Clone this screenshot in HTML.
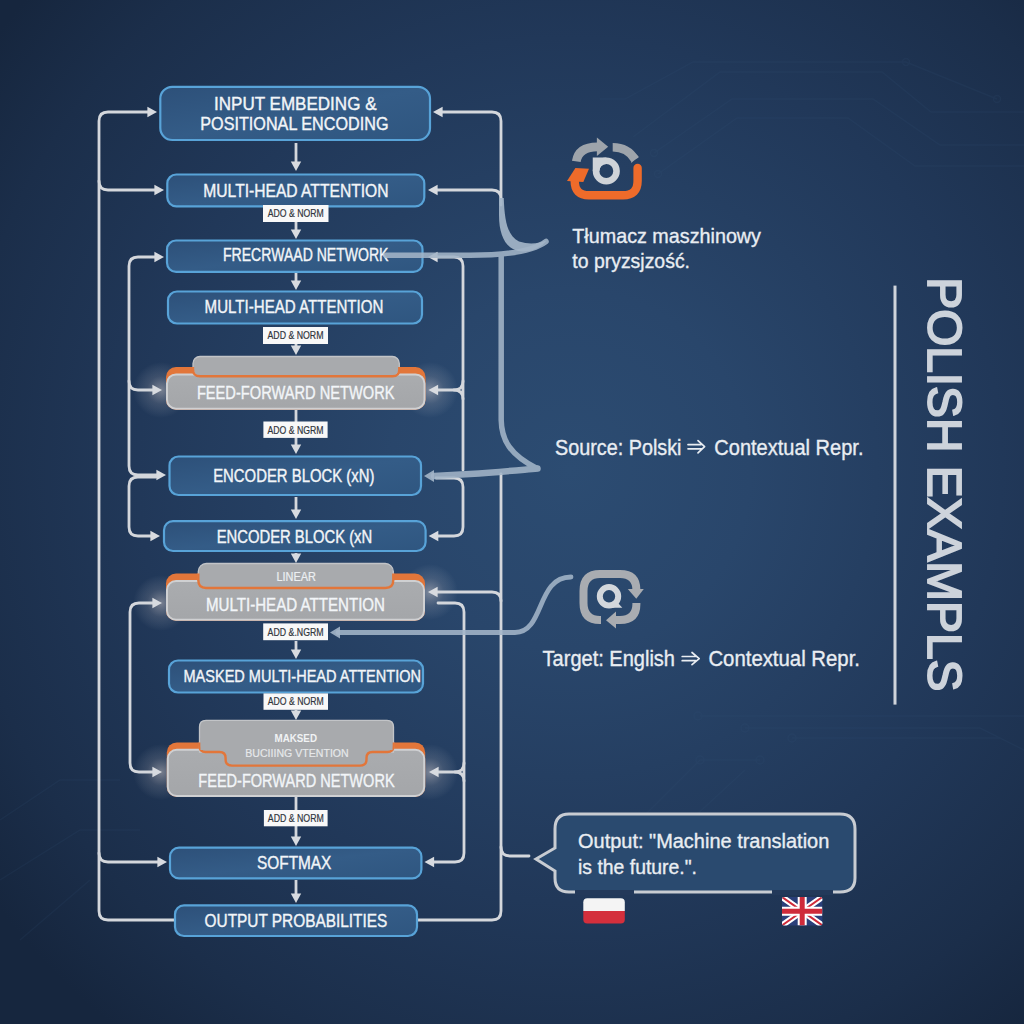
<!DOCTYPE html>
<html><head><meta charset="utf-8"><style>
html,body{margin:0;padding:0;width:1024px;height:1024px;overflow:hidden;background:#1f3050;}
svg{display:block;font-family:"Liberation Sans",sans-serif;}
</style></head><body>
<svg width="1024" height="1024" viewBox="0 0 1024 1024">
<defs>
<radialGradient id="bg" gradientUnits="userSpaceOnUse" cx="570" cy="470" r="720">
<stop offset="0" stop-color="#2c4c72"/>
<stop offset="0.25" stop-color="#29466b"/>
<stop offset="0.6" stop-color="#213859"/>
<stop offset="0.85" stop-color="#1b2e4a"/>
<stop offset="1" stop-color="#16263e"/>
</radialGradient>
<linearGradient id="bluebox" x1="0" y1="0" x2="1" y2="1">
<stop offset="0" stop-color="#2d5079"/>
<stop offset="0.5" stop-color="#345c87"/>
<stop offset="1" stop-color="#2f5680"/>
</linearGradient>
<linearGradient id="greybox" x1="0" y1="0" x2="0" y2="1">
<stop offset="0" stop-color="#aaacaf"/>
<stop offset="1" stop-color="#a4a6a9"/>
</linearGradient>
<radialGradient id="glow">
<stop offset="0" stop-color="#f4e6e0" stop-opacity="0.42"/>
<stop offset="0.5" stop-color="#e8dcd8" stop-opacity="0.14"/>
<stop offset="1" stop-color="#ffffff" stop-opacity="0"/>
</radialGradient>
</defs>
<rect x="0" y="0" width="1024" height="1024" fill="url(#bg)"/>
<g stroke="#37577c" stroke-width="1.4" fill="none" opacity="0.13">
<path d="M600 99 L625 99 L693 62 L906 62 L997 99"/>
<path d="M633 137 L720 72 L882 72 L931 112 L1024 112"/>
<path d="M654 153 L732 99 L873 99 L940 145 L1024 145"/>
<path d="M658 174 L737 118 L848 118 L915 166 L1024 166"/>
<circle cx="658" cy="174" r="3.5"/><circle cx="654" cy="153" r="3.5"/><circle cx="906" cy="62" r="3.5"/><circle cx="997" cy="99" r="3.5"/>
<path d="M700 716 L1024 716"/><path d="M745 728 L980 728 L1024 750"/><path d="M792 738 L1000 738"/>
<circle cx="698" cy="716" r="4"/><circle cx="745" cy="728" r="4"/><circle cx="792" cy="738" r="4"/>
<path d="M640 820 L700 760 L760 760"/><path d="M680 830 L745 770"/><circle cx="700" cy="760" r="4"/><circle cx="760" cy="760" r="4"/>
<path d="M0 820 L60 780 L120 780"/><path d="M0 880 L80 830 L140 830"/><path d="M20 940 L90 880"/>
</g>
<circle cx="161" cy="390" r="28" fill="url(#glow)"/>
<circle cx="430" cy="390" r="28" fill="url(#glow)"/>
<circle cx="161" cy="603" r="28" fill="url(#glow)"/>
<circle cx="430" cy="592" r="28" fill="url(#glow)"/>
<circle cx="161" cy="772" r="28" fill="url(#glow)"/>
<circle cx="430" cy="772" r="28" fill="url(#glow)"/>
<path d="M150 112 L108 112 Q99 112 99 121 L99 911 Q99 920 108 920 L174 920" fill="none" stroke="#d4d7dc" stroke-width="2.8" stroke-linecap="round" stroke-linejoin="round"/>
<path d="M99 181 Q99 190 108 190 L156 190" fill="none" stroke="#d4d7dc" stroke-width="2.8" stroke-linecap="round" stroke-linejoin="round"/>
<path d="M99 853 Q99 862 108 862 L159 862" fill="none" stroke="#d4d7dc" stroke-width="2.8" stroke-linecap="round" stroke-linejoin="round"/>
<path d="M156 257 L138 257 Q129 257 129 266 L129 466 Q129 475 138 475 L158 475" fill="none" stroke="#d4d7dc" stroke-width="2.8" stroke-linecap="round" stroke-linejoin="round"/>
<path d="M129 381 Q129 390 138 390 L154 390" fill="none" stroke="#d4d7dc" stroke-width="2.8" stroke-linecap="round" stroke-linejoin="round"/>
<path d="M156 477 L138 477 Q129 477 129 486 L129 527 Q129 536 138 536 L152 536" fill="none" stroke="#d4d7dc" stroke-width="2.8" stroke-linecap="round" stroke-linejoin="round"/>
<path d="M154 603 L139 603 Q130 603 130 612 L130 763 Q130 772 139 772 L154 772" fill="none" stroke="#d4d7dc" stroke-width="2.8" stroke-linecap="round" stroke-linejoin="round"/>
<path d="M440 112 L492 112 Q501 112 501 121 L501 205" fill="none" stroke="#d4d7dc" stroke-width="2.8" stroke-linecap="round" stroke-linejoin="round"/>
<path d="M501 474 L501 911 Q501 920 492 920 L418 920" fill="none" stroke="#d4d7dc" stroke-width="2.8" stroke-linecap="round" stroke-linejoin="round"/>
<path d="M436 190 L492 190 Q501 190 501 199" fill="none" stroke="#d4d7dc" stroke-width="2.8" stroke-linecap="round" stroke-linejoin="round"/>
<path d="M436 592 L492 592 Q501 592 501 601" fill="none" stroke="#d4d7dc" stroke-width="2.8" stroke-linecap="round" stroke-linejoin="round"/>
<path d="M501 847 Q501 856 510 856 L529 856" fill="none" stroke="#d4d7dc" stroke-width="2.8" stroke-linecap="round" stroke-linejoin="round"/>
<path d="M436 257 L454 257 Q463 257 463 266 L463 470" fill="none" stroke="#d4d7dc" stroke-width="2.8" stroke-linecap="round" stroke-linejoin="round"/>
<path d="M436 390 L454 390 Q463 390 463 381" fill="none" stroke="#d4d7dc" stroke-width="2.8" stroke-linecap="round" stroke-linejoin="round"/>
<path d="M454 390 Q463 390 463 399" fill="none" stroke="#d4d7dc" stroke-width="2.8" stroke-linecap="round" stroke-linejoin="round"/>
<path d="M436 478 L454 478 Q463 478 463 487 L463 527 Q463 536 454 536 L438 536" fill="none" stroke="#d4d7dc" stroke-width="2.8" stroke-linecap="round" stroke-linejoin="round"/>
<path d="M438 603 L455 603 Q464 603 464 612 L464 853 Q464 862 455 862 L432 862" fill="none" stroke="#d4d7dc" stroke-width="2.8" stroke-linecap="round" stroke-linejoin="round"/>
<path d="M437 772 L455 772 Q464 772 464 763" fill="none" stroke="#d4d7dc" stroke-width="2.8" stroke-linecap="round" stroke-linejoin="round"/>
<path d="M455 772 Q464 772 464 781" fill="none" stroke="#d4d7dc" stroke-width="2.8" stroke-linecap="round" stroke-linejoin="round"/>
<polygon points="157,112 147.4,106.8 147.4,117.2" fill="#d8dbe0"/>
<polygon points="164,190 154.4,184.8 154.4,195.2" fill="#d8dbe0"/>
<polygon points="164,257 154.4,251.8 154.4,262.2" fill="#d8dbe0"/>
<polygon points="162,390 152.4,384.8 152.4,395.2" fill="#d8dbe0"/>
<polygon points="166,475 156.4,469.8 156.4,480.2" fill="#d8dbe0"/>
<polygon points="160,536 150.4,530.8 150.4,541.2" fill="#d8dbe0"/>
<polygon points="162,603 152.4,597.8 152.4,608.2" fill="#d8dbe0"/>
<polygon points="162,772 152.4,766.8 152.4,777.2" fill="#d8dbe0"/>
<polygon points="167,862 157.4,856.8 157.4,867.2" fill="#d8dbe0"/>
<polygon points="433,112 442.6,106.8 442.6,117.2" fill="#d8dbe0"/>
<polygon points="428,190 437.6,184.8 437.6,195.2" fill="#d8dbe0"/>
<polygon points="428,257 437.6,251.8 437.6,262.2" fill="#d8dbe0"/>
<polygon points="428.5,390 438.1,384.8 438.1,395.2" fill="#d8dbe0"/>
<polygon points="428.7,536 438.3,530.8 438.3,541.2" fill="#d8dbe0"/>
<polygon points="428,592 437.6,586.8 437.6,597.2" fill="#d8dbe0"/>
<polygon points="429,772 438.6,766.8 438.6,777.2" fill="#d8dbe0"/>
<polygon points="424.5,862 434.1,856.8 434.1,867.2" fill="#d8dbe0"/>
<line x1="296" y1="143" x2="296" y2="163" stroke="#d4d7dc" stroke-width="2.8"/>
<polygon points="296,171 290.8,161.4 301.2,161.4" fill="#d8dbe0"/>
<line x1="296" y1="222" x2="296" y2="231" stroke="#d4d7dc" stroke-width="2.8"/>
<polygon points="296,239 290.8,229.4 301.2,229.4" fill="#d8dbe0"/>
<line x1="296" y1="273" x2="296" y2="282" stroke="#d4d7dc" stroke-width="2.8"/>
<polygon points="296,290 290.8,280.4 301.2,280.4" fill="#d8dbe0"/>
<line x1="296" y1="344" x2="296" y2="347" stroke="#d4d7dc" stroke-width="2.8"/>
<polygon points="296,355 290.8,345.4 301.2,345.4" fill="#d8dbe0"/>
<line x1="296" y1="410" x2="296" y2="446" stroke="#d4d7dc" stroke-width="2.8"/>
<polygon points="296,454 290.8,444.4 301.2,444.4" fill="#d8dbe0"/>
<line x1="296" y1="497" x2="296" y2="511" stroke="#d4d7dc" stroke-width="2.8"/>
<polygon points="296,519 290.8,509.4 301.2,509.4" fill="#d8dbe0"/>
<line x1="296" y1="553" x2="296" y2="555" stroke="#d4d7dc" stroke-width="2.8"/>
<polygon points="296,563 290.8,553.4 301.2,553.4" fill="#d8dbe0"/>
<line x1="296" y1="641" x2="296" y2="651" stroke="#d4d7dc" stroke-width="2.8"/>
<polygon points="296,659 290.8,649.4 301.2,649.4" fill="#d8dbe0"/>
<line x1="296" y1="710" x2="296" y2="712" stroke="#d4d7dc" stroke-width="2.8"/>
<polygon points="296,720 290.8,710.4 301.2,710.4" fill="#d8dbe0"/>
<line x1="296" y1="797" x2="296" y2="838" stroke="#d4d7dc" stroke-width="2.8"/>
<polygon points="296,846 290.8,836.4 301.2,836.4" fill="#d8dbe0"/>
<line x1="296" y1="880" x2="296" y2="895" stroke="#d4d7dc" stroke-width="2.8"/>
<polygon points="296,903 290.8,893.4 301.2,893.4" fill="#d8dbe0"/>
<rect x="160.3" y="86.8" width="269.7" height="53.2" rx="12" fill="url(#bluebox)" stroke="#58a3d8" stroke-width="2.2"/>
<text x="214.0" y="109.7" font-size="17.88" font-weight="normal" fill="#f2f5f8" stroke="#f2f5f8" stroke-width="0.38" textLength="162.5" lengthAdjust="spacingAndGlyphs" >INPUT EMBEDING &amp;</text>
<text x="200.3" y="130.0" font-size="17.88" font-weight="normal" fill="#f2f5f8" stroke="#f2f5f8" stroke-width="0.38" textLength="188.2" lengthAdjust="spacingAndGlyphs" >POSITIONAL ENCODING</text>
<rect x="167.3" y="174.5" width="257.0" height="31.8" rx="9" fill="url(#bluebox)" stroke="#58a3d8" stroke-width="2.2"/>
<text x="203.3" y="196.6" font-size="17.44" font-weight="normal" fill="#f2f5f8" stroke="#f2f5f8" stroke-width="0.38" textLength="185.2" lengthAdjust="spacingAndGlyphs" >MULTI-HEAD ATTENTION</text>
<rect x="263" y="205" width="65.5" height="17.0" fill="#f8f8f8"/>
<text x="267.8" y="217.3" font-size="10.03" font-weight="normal" fill="#30353c" stroke="#30353c" stroke-width="0.18" textLength="56.0" lengthAdjust="spacingAndGlyphs" >ADO &amp; NORM</text>
<rect x="167.0" y="240.5" width="255.5" height="31.3" rx="9" fill="url(#bluebox)" stroke="#58a3d8" stroke-width="2.2"/>
<text x="223.0" y="261.2" font-size="17.44" font-weight="normal" fill="#f2f5f8" stroke="#f2f5f8" stroke-width="0.38" textLength="165.5" lengthAdjust="spacingAndGlyphs" >FRECRWAAD NETWORK</text>
<rect x="168.0" y="291.5" width="254.0" height="32.0" rx="9" fill="url(#bluebox)" stroke="#58a3d8" stroke-width="2.2"/>
<text x="204.6" y="312.8" font-size="17.44" font-weight="normal" fill="#f2f5f8" stroke="#f2f5f8" stroke-width="0.38" textLength="178.8" lengthAdjust="spacingAndGlyphs" >MULTI-HEAD ATTENTION</text>
<rect x="263" y="327" width="65.0" height="17.0" fill="#f8f8f8"/>
<text x="267.5" y="339.3" font-size="10.03" font-weight="normal" fill="#30353c" stroke="#30353c" stroke-width="0.18" textLength="56.0" lengthAdjust="spacingAndGlyphs" >ADD &amp; NORM</text>
<rect x="166" y="367" width="259.5" height="42.7" rx="10" fill="#e2763a"/>
<rect x="167.0" y="374.4" width="257.5" height="34.3" rx="9" fill="url(#greybox)" stroke="#cfd0d2" stroke-width="2"/>
<rect x="193" y="356.5" width="206.3" height="19.5" rx="7" fill="#a8aaad" stroke="#c2c4c7" stroke-width="1.3"/>
<path d="M193 367 L193 369.5 Q193 376.2 200 376.2 L392.5 376.2 Q399.3 376.2 399.3 369.5 L399.3 367" fill="none" stroke="#e2763a" stroke-width="2.4"/>
<text x="196.9" y="398.8" font-size="17.44" font-weight="normal" fill="#f2f5f8" stroke="#f2f5f8" stroke-width="0.38" textLength="197.7" lengthAdjust="spacingAndGlyphs" >FEED-FORWARD NETWORK</text>
<rect x="263.4" y="421.5" width="64.2" height="16.4" fill="#f8f8f8"/>
<text x="267.5" y="433.5" font-size="10.03" font-weight="normal" fill="#30353c" stroke="#30353c" stroke-width="0.18" textLength="56.0" lengthAdjust="spacingAndGlyphs" >ADO &amp; NGRM</text>
<rect x="169.5" y="456.5" width="251.5" height="38.5" rx="9" fill="url(#bluebox)" stroke="#58a3d8" stroke-width="2.2"/>
<text x="213.2" y="482.4" font-size="17.44" font-weight="normal" fill="#f2f5f8" stroke="#f2f5f8" stroke-width="0.38" textLength="161.2" lengthAdjust="spacingAndGlyphs" >ENCODER BLOCK (xN)</text>
<rect x="164.0" y="521.2" width="261.6" height="29.8" rx="9" fill="url(#bluebox)" stroke="#58a3d8" stroke-width="2.2"/>
<text x="216.7" y="542.6" font-size="17.44" font-weight="normal" fill="#f2f5f8" stroke="#f2f5f8" stroke-width="0.38" textLength="155.5" lengthAdjust="spacingAndGlyphs" >ENCODER BLOCK (xN</text>
<rect x="166" y="573.5" width="259" height="47.3" rx="10" fill="#e2763a"/>
<rect x="167.0" y="581.0" width="257.0" height="38.8" rx="9" fill="url(#greybox)" stroke="#cfd0d2" stroke-width="2"/>
<rect x="198.3" y="563.5" width="195" height="24.5" rx="8" fill="#a8aaad" stroke="#c2c4c7" stroke-width="1.3"/>
<path d="M198.3 573.5 L198.3 580 Q198.3 588 206 588 L385.5 588 Q393.3 588 393.3 580 L393.3 573.5" fill="none" stroke="#e2763a" stroke-width="2.4"/>
<text x="276.5" y="580.5" font-size="12.06" font-weight="normal" fill="#eceff2" stroke="#eceff2" stroke-width="0.2" textLength="39.5" lengthAdjust="spacingAndGlyphs" >LINEAR</text>
<text x="206.0" y="610.5" font-size="17.44" font-weight="normal" fill="#f2f5f8" stroke="#f2f5f8" stroke-width="0.38" textLength="179.0" lengthAdjust="spacingAndGlyphs" >MULTI-HEAD ATTENTION</text>
<rect x="263.2" y="623.4" width="64.8" height="16.8" fill="#f8f8f8"/>
<text x="267.6" y="635.6" font-size="10.03" font-weight="normal" fill="#30353c" stroke="#30353c" stroke-width="0.18" textLength="56.0" lengthAdjust="spacingAndGlyphs" >ADD &amp;.NGRM</text>
<rect x="169.0" y="660.5" width="254.0" height="32.0" rx="9" fill="url(#bluebox)" stroke="#58a3d8" stroke-width="2.2"/>
<text x="183.5" y="681.7" font-size="17.15" font-weight="normal" fill="#f2f5f8" stroke="#f2f5f8" stroke-width="0.38" textLength="237.5" lengthAdjust="spacingAndGlyphs" >MASKED MULTI-HEAD ATTENTION</text>
<rect x="263.5" y="693.4" width="64.5" height="16.4" fill="#f8f8f8"/>
<text x="267.8" y="705.4" font-size="10.03" font-weight="normal" fill="#30353c" stroke="#30353c" stroke-width="0.18" textLength="56.0" lengthAdjust="spacingAndGlyphs" >ADO &amp; NORM</text>
<rect x="166.8" y="742.4" width="258.4" height="54.6" rx="10" fill="#e2763a"/>
<rect x="167.8" y="749.7" width="256.4" height="46.3" rx="9" fill="url(#greybox)" stroke="#cfd0d2" stroke-width="2"/>
<path d="M199.5 752 L199.5 727 Q199.5 720.3 206 720.3 L387 720.3 Q393.5 720.3 393.5 727 L393.5 752 Z" fill="#a8aaad" stroke="#c2c4c7" stroke-width="1.3"/>
<path d="M199.5 742.4 L199.5 746 Q199.5 752 205.5 752 L219.5 752 Q225.6 752 225.6 758 L225.6 759.5 Q225.6 765.6 232 765.6 L360 765.6 Q366.5 765.6 366.5 759.5 L366.5 758 Q366.5 752 372.5 752 L387.5 752 Q393.5 752 393.5 746 L393.5 742.4" fill="#a8aaad" stroke="#e2763a" stroke-width="2.4"/>
<rect x="200.5" y="738" width="192" height="12" fill="#a8aaad"/>
<text x="274.5" y="741.5" font-size="10.61" font-weight="bold" fill="#f0f2f4" textLength="42.5" lengthAdjust="spacingAndGlyphs" >MAKSED</text>
<text x="245.3" y="757.4" font-size="11.63" font-weight="normal" fill="#e6e8ea" stroke="#e6e8ea" stroke-width="0.2" textLength="103.4" lengthAdjust="spacingAndGlyphs" >BUCIIING VTENTION</text>
<text x="198.3" y="787.0" font-size="17.44" font-weight="normal" fill="#f2f5f8" stroke="#f2f5f8" stroke-width="0.38" textLength="196.3" lengthAdjust="spacingAndGlyphs" >FEED-FORWARD NETWORK</text>
<rect x="263.9" y="810" width="63.7" height="16.3" fill="#f8f8f8"/>
<text x="267.8" y="822.0" font-size="10.03" font-weight="normal" fill="#30353c" stroke="#30353c" stroke-width="0.18" textLength="56.0" lengthAdjust="spacingAndGlyphs" >ADD &amp; NORM</text>
<rect x="170.0" y="847.6" width="251.4" height="30.8" rx="9" fill="url(#bluebox)" stroke="#58a3d8" stroke-width="2.2"/>
<text x="257.0" y="869.4" font-size="17.44" font-weight="normal" fill="#f2f5f8" stroke="#f2f5f8" stroke-width="0.38" textLength="74.4" lengthAdjust="spacingAndGlyphs" >SOFTMAX</text>
<rect x="175.0" y="905.3" width="242.0" height="30.7" rx="9" fill="url(#bluebox)" stroke="#58a3d8" stroke-width="2.2"/>
<text x="204.6" y="927.0" font-size="17.44" font-weight="normal" fill="#f2f5f8" stroke="#f2f5f8" stroke-width="0.38" textLength="182.7" lengthAdjust="spacingAndGlyphs" >OUTPUT PROBABILITIES</text>
<g fill="none" stroke="#a3b5c8" stroke-linecap="round" opacity="0.88">
<path d="M386 255.3 L470 255.3 C505 255.3 532 252 546 241.5" stroke-width="5.5"/>
<path d="M501.2 255 L501.2 420 C501.5 440 510 455 537 468.5" stroke-width="5.5"/>
<path d="M434 476 L470 474 C500 472 520 470 537.5 468.5" stroke-width="6.5"/>
<path d="M338 632.5 L515 632.5 C545 632 536 577 571 577" stroke-width="4.8"/>
</g>
<path d="M499 198 L503.8 198 C504.5 222 508 236 519 241.5 C530 245 540 243 546.5 240.5 C541 248 530 253 518 251 C506 248 499 236 499 215 Z" fill="#a3b5c8" opacity="0.92"/>
<polygon points="424,476 434,470 434,482" fill="#a3b5c8" opacity="0.9"/>
<polygon points="330,632.5 340,626.5 340,638.5" fill="#a3b5c8" opacity="0.9"/>
<text x="572.3" y="242.5" font-size="20.78" font-weight="normal" fill="#e9edf2" stroke="#e9edf2" stroke-width="0.35" textLength="188.7" lengthAdjust="spacingAndGlyphs" >Tłumacz maszhinowy</text>
<text x="572.3" y="268.3" font-size="20.78" font-weight="normal" fill="#e9edf2" stroke="#e9edf2" stroke-width="0.35" textLength="117.7" lengthAdjust="spacingAndGlyphs" >to pryzsjzość.</text>
<text x="555.0" y="454.9" font-size="21.51" font-weight="normal" fill="#e9edf2" stroke="#e9edf2" stroke-width="0.35" textLength="126.5" lengthAdjust="spacingAndGlyphs" >Source: Polski</text>
<text x="714.3" y="454.9" font-size="21.51" font-weight="normal" fill="#e9edf2" stroke="#e9edf2" stroke-width="0.35" textLength="149.2" lengthAdjust="spacingAndGlyphs" >Contextual Repr.</text>
<path d="M688 444.6 L701 444.6 M688 448.8 L701 448.8 M698 440.6 L704.6 446.7 L698 452.8" fill="none" stroke="#e9edf2" stroke-width="1.7" stroke-linecap="round" stroke-linejoin="round"/>
<text x="542.6" y="665.6" font-size="21.51" font-weight="normal" fill="#e9edf2" stroke="#e9edf2" stroke-width="0.35" textLength="132.4" lengthAdjust="spacingAndGlyphs" >Target: English</text>
<text x="708.4" y="665.6" font-size="21.51" font-weight="normal" fill="#e9edf2" stroke="#e9edf2" stroke-width="0.35" textLength="151.6" lengthAdjust="spacingAndGlyphs" >Contextual Repr.</text>
<path d="M682.2 656.5 L695.5 656.5 M682.2 660.7 L695.5 660.7 M692 652.5 L699.2 658.6 L692 664.7" fill="none" stroke="#e9edf2" stroke-width="1.7" stroke-linecap="round" stroke-linejoin="round"/>
<rect x="893.5" y="285.6" width="3" height="419" fill="#cfd4db"/>
<text transform="translate(927.8 277.3) rotate(90)" x="0" y="0" font-size="48.5" fill="#cdd3db" stroke="#cdd3db" stroke-width="1.9" textLength="414" lengthAdjust="spacingAndGlyphs">POLISH EXAMPLS</text>
<path d="M569 814 L840 814 Q855 814 855 829 L855 878 Q855 892 840 892 L569 892 Q555 892 555 878 L555 871 L536 859 L555 848 L555 829 Q555 814 569 814 Z" fill="#2a4a6f" stroke="#c8ccd2" stroke-width="3"/>
<rect x="575" y="890" width="59" height="5" fill="#23395a"/><rect x="772" y="890" width="61" height="5" fill="#23395a"/>
<text x="578.0" y="848.0" font-size="20.35" font-weight="normal" fill="#e9edf2" stroke="#e9edf2" stroke-width="0.35" textLength="251.3" lengthAdjust="spacingAndGlyphs" >Output: &quot;Machine translation</text>
<text x="578.0" y="874.4" font-size="20.35" font-weight="normal" fill="#e9edf2" stroke="#e9edf2" stroke-width="0.35" textLength="119.0" lengthAdjust="spacingAndGlyphs" >is the future.&quot;.</text>
<clipPath id="plc"><rect x="583.3" y="898.3" width="41.5" height="25.3" rx="4"/></clipPath><g clip-path="url(#plc)"><rect x="583" y="898" width="42" height="13" fill="#f4f4f4"/><rect x="583" y="911" width="42" height="13" fill="#d42f3c"/></g>
<clipPath id="ukc"><rect x="782" y="897" width="40.4" height="28.4" rx="2"/></clipPath><g clip-path="url(#ukc)"><rect x="782" y="897" width="41" height="29" fill="#2a3f7a"/><path d="M782 897 L822.4 925.4 M822.4 897 L782 925.4" stroke="#fff" stroke-width="6"/><path d="M782 897 L822.4 925.4 M822.4 897 L782 925.4" stroke="#cf2b3a" stroke-width="2"/><path d="M802.2 897 L802.2 925.4 M782 911.2 L822.4 911.2" stroke="#fff" stroke-width="9"/><path d="M802.2 897 L802.2 925.4 M782 911.2 L822.4 911.2" stroke="#cf2b3a" stroke-width="5"/></g>
<g><path d="M576.3 161.4 C578 151 586 146.9 597.5 146.9" fill="none" stroke="#9ea4ab" stroke-width="8.8"/><polygon points="596.9,137.6 608.2,146.8 596.9,156.1" fill="#9ea4ab"/><path d="M612.7 147.3 C622 147.3 630 151 635 159.7" fill="none" stroke="#9ea4ab" stroke-width="8.5"/><polygon points="631,150 638.7,156.4 631.2,163" fill="#9ea4ab"/><path d="M574.7 179 L574.7 181 Q574.7 195.2 589 195.2 L623 195.2 Q637.6 195.2 637.6 181 L637.6 168" fill="none" stroke="#ee6b2a" stroke-width="8.4" stroke-linecap="round"/><polygon points="567,181 575.4,168 589,168.7 583.3,181.9" fill="#ee6b2a"/><circle cx="606.3" cy="171" r="10.25" fill="none" stroke="#cfd3d8" stroke-width="6.6"/><path d="M592.75 171 L592.75 157.45 L606.3 157.45 L606.3 164.05 A6.95 6.95 0 0 0 599.35 171 Z" fill="#cfd3d8"/></g>
<g><path d="M601 620 L600 620 Q583.5 620 583.5 603 L583.5 591 Q583.5 574 600 574 L620 574 Q636.4 574 636.4 590 L636.4 590" fill="none" stroke="#a9acb1" stroke-width="8"/><polygon points="627.8,589 643.8,589 636.25,598.7" fill="#a9acb1"/><path d="M636.4 603 L636.4 604 Q636.4 620 620 620 L614 620" fill="none" stroke="#a9acb1" stroke-width="8"/><polygon points="606,620.2 616,611.6 616,628.4" fill="#a9acb1"/><circle cx="609" cy="596.3" r="9.2" fill="none" stroke="#d3d7dc" stroke-width="6"/><polygon points="608,603 618,603 622.3,607.7 606,607.7" fill="#d3d7dc"/></g>
</svg>
</body></html>
